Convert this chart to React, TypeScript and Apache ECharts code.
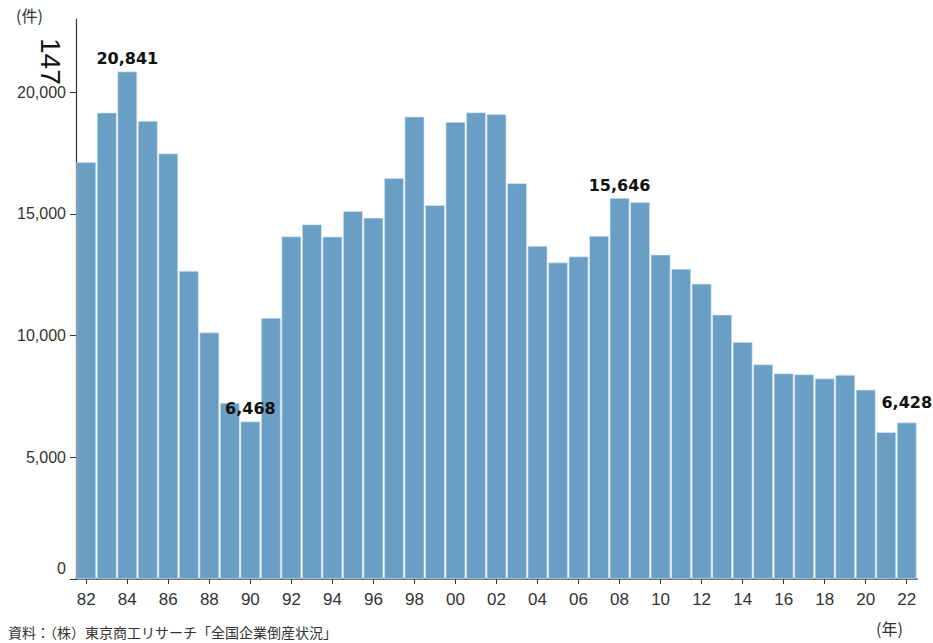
import React, { useEffect, useRef } from "react";
import * as echarts from "echarts";

const years = [
  "82","83","84","85","86","87","88","89","90","91","92","93","94","95","96","97","98","99","00","01",
  "02","03","04","05","06","07","08","09","10","11","12","13","14","15","16","17","18","19","20","21","22",
];
const bankruptcies = [
  17122, 19155, 20841, 18812, 17476, 12655, 10122, 7234, 6468, 10723,
  14069, 14564, 14061, 15108, 14834, 16464, 18988, 15352, 18769, 19164,
  19087, 16255, 13679, 12998, 13245, 14091, 15646, 15480, 13321, 12734,
  12124, 10855, 9731, 8812, 8446, 8405, 8235, 8383, 7773, 6030, 6428,
];
const labelledYears = ["84", "90", "08", "22"];
const yTicks = [0, 5000, 10000, 15000, 20000];

export default function App() {
  const ref = useRef<HTMLDivElement>(null);
  useEffect(() => {
    if (!ref.current) return;
    const chart = echarts.init(ref.current, undefined, { renderer: "svg" });
    const data = bankruptcies.map((v, i) => {
      const show = labelledYears.includes(years[i]);
      return {
        value: v,
        label: show
          ? {
              show: true,
              position: "top",
              distance: years[i] === "22" ? 12 : 5,
              formatter: (p: any) => Number(p.value).toLocaleString("en-US"),
              fontFamily: "DejaVu Sans",
              fontWeight: "bold",
              fontSize: 16,
              color: "#111",
            }
          : { show: false },
      };
    });
    chart.setOption({
      animation: false,
      grid: { left: 76, right: 16, top: 19, bottom: 64, containLabel: false },
      xAxis: {
        type: "category",
        data: years,
        axisLine: { lineStyle: { color: "#333", width: 1.5 } },
        axisTick: { show: true, alignWithLabel: true, interval: 1, length: 5, lineStyle: { color: "#333" } },
        axisLabel: {
          interval: 1,
          margin: 12,
          fontSize: 17,
          color: "#333",
          fontFamily: "Liberation Sans Narrow, Liberation Sans, sans-serif",
        },
      },
      yAxis: {
        type: "value",
        min: 0,
        max: 23000,
        interval: 5000,
        splitLine: { show: false },
        axisLine: { show: true, lineStyle: { color: "#333", width: 1.2 } },
        axisTick: { show: true, length: 6, lineStyle: { color: "#333" }, customValues: yTicks },
        axisLabel: {
          customValues: yTicks,
          margin: 10,
          fontSize: 16,
          color: "#333",
          fontFamily: "Liberation Sans Narrow, Liberation Sans, sans-serif",
          formatter: (v: number) => (v === 0 ? "{z|0}" : v.toLocaleString("en-US")),
          rich: {
            z: {
              fontSize: 16,
              color: "#333",
              fontFamily: "Liberation Sans Narrow, Liberation Sans, sans-serif",
              padding: [0, 0, 22, 0],
            },
          },
        },
      },
      series: [
        {
          type: "bar",
          data,
          barCategoryGap: "4%",
          itemStyle: { color: "#6A9FC5", borderColor: "#dfeaf3", borderWidth: 0.6 },
        },
      ],
      graphic: [
        {
          type: "text",
          left: 16,
          top: 7,
          style: { text: "(件)", fontSize: 16, fill: "#333", fontFamily: "Noto Sans CJK JP" },
        },
        {
          type: "text",
          x: 64,
          y: 38,
          rotation: -Math.PI / 2,
          style: { text: "147", fontSize: 28, fill: "#111", fontFamily: "Liberation Sans" },
        },
        {
          type: "text",
          left: 876,
          top: 620,
          style: { text: "(年)", fontSize: 16, fill: "#333", fontFamily: "Noto Sans CJK JP" },
        },
        {
          type: "text",
          left: 8,
          top: 625,
          style: {
            text: "資料：（株）東京商工リサーチ「全国企業倒産状況」",
            fontSize: 14,
            fill: "#333",
            fontFamily: "Noto Sans CJK JP",
          },
        },
      ],
    });
    return () => chart.dispose();
  }, []);
  return (
    <div
      ref={ref}
      style={{ position: "fixed", left: 0, top: 0, width: 933, height: 643, background: "#fff" }}
    />
  );
}
